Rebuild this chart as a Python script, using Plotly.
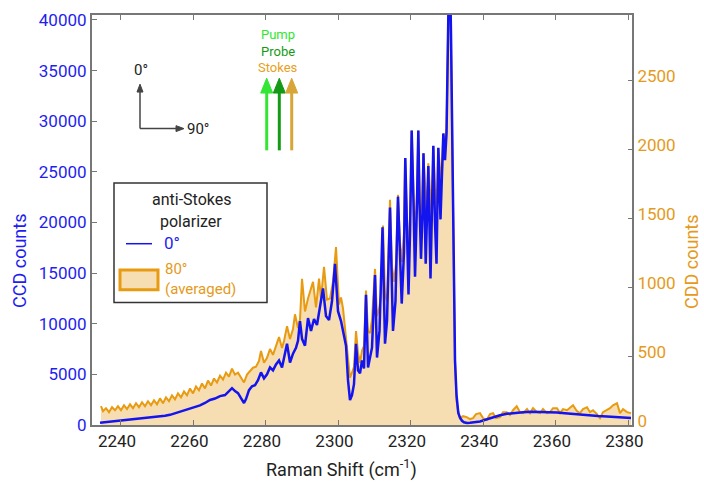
import plotly.graph_objects as go

# ---------------- data ----------------
# anti-Stokes polarizer 0 deg (left axis, CCD counts)
x_blue = [2234.21, 2235.59, 2236.97, 2238.35, 2239.73, 2241.11, 2242.49, 2243.86, 2245.24, 2246.62,
          2248.00, 2249.38, 2250.76, 2252.14, 2253.52, 2254.90, 2256.28, 2257.66, 2259.04, 2260.42,
          2261.80, 2263.18, 2264.56, 2265.94, 2267.32, 2268.70, 2269.53, 2270.63, 2271.46, 2272.29,
          2273.11, 2273.94, 2274.49, 2275.32, 2276.15, 2276.98, 2277.80, 2278.63, 2279.46, 2280.29,
          2281.12, 2281.94, 2282.77, 2283.60, 2284.43, 2284.98, 2285.81, 2286.63, 2287.46, 2288.29,
          2288.84, 2289.39, 2289.95, 2290.77, 2291.60, 2292.43, 2293.26, 2294.08, 2294.91, 2295.74,
          2296.57, 2297.40, 2298.22, 2299.05, 2299.88, 2300.71, 2301.53, 2302.09, 2302.64, 2303.19,
          2303.74, 2304.29, 2304.85, 2305.40, 2305.95, 2306.50, 2307.05, 2307.60, 2308.16, 2308.71,
          2309.26, 2310.09, 2310.64, 2311.33, 2312.16, 2312.85, 2313.40, 2314.23, 2315.05, 2315.74,
          2316.43, 2317.46, 2318.09, 2318.45, 2318.92, 2319.33, 2319.75, 2320.21, 2320.71, 2321.13,
          2321.68, 2322.04, 2322.37, 2322.78, 2323.20, 2323.47, 2324.08, 2324.80, 2325.40, 2326.18,
          2326.64, 2327.06, 2327.56, 2328.16, 2328.94, 2329.40, 2329.82, 2330.23, 2330.65, 2331.06,
          2331.47, 2331.75, 2332.16, 2332.58, 2333.07, 2333.54, 2334.09, 2334.64, 2335.47, 2336.30,
          2337.68, 2339.06, 2340.99, 2342.65, 2344.58, 2346.51, 2348.72, 2350.93, 2353.41, 2355.62,
          2357.82, 2360.31, 2362.51, 2364.72, 2366.93, 2369.41, 2371.62, 2374.10, 2376.31, 2378.52,
          2380.72]
y_blue = [224, 273, 322, 370, 419, 468, 517, 566, 614, 663,
          712, 760, 809, 907, 1004, 1150, 1297, 1443, 1589, 1784,
          1930, 2174, 2467, 2613, 2857, 2954, 3247, 3637, 3344, 3149,
          2662, 2174, 2564, 3442, 3832, 3930, 4417, 5197, 4612, 5002,
          5684, 5392, 5977, 6367, 5684, 6562, 8024, 6172, 7049, 7634,
          8317, 10267, 8512, 7829, 10560, 9292, 10462, 9877, 11729, 13484,
          10755, 10365, 12217, 15922, 11242, 10267, 8804, 7829, 4417, 2467,
          2954, 4027, 8024, 5392, 5099, 6367, 5587, 12870, 5684, 6854,
          7634, 14820, 6659, 9292, 19530, 8024, 10267, 21478, 9292, 12217,
          22550, 11992, 17092, 26354, 18067, 12899, 19012, 29084, 21965, 14655,
          21965, 29084, 21965, 16409, 20987, 26842, 15922, 25574, 14460, 27574,
          20017, 15922, 27379, 20305, 28792, 26159, 28792, 35620, 48000, 38542,
          26842, 15142, 6367, 2954, 1199, 712, 419, 273, 195, 224,
          273, 351, 566, 780, 955, 1102, 1199, 1268, 1297, 1297,
          1268, 1229, 1150, 1073, 1004, 936, 878, 839, 790, 741,
          683]

# anti-Stokes polarizer 80 deg, averaged (right axis, CDD counts)
x_orange = [2234.48, 2235.04, 2235.86, 2236.69, 2237.52, 2238.35, 2239.17, 2240.00, 2240.83, 2241.66,
            2242.49, 2243.31, 2244.14, 2244.97, 2245.80, 2246.62, 2247.45, 2248.28, 2249.11, 2249.94,
            2250.76, 2251.59, 2252.42, 2253.25, 2254.07, 2254.90, 2255.73, 2256.56, 2257.39, 2258.21,
            2259.04, 2259.87, 2260.70, 2261.52, 2262.35, 2263.18, 2264.01, 2264.84, 2265.66, 2266.49,
            2267.32, 2268.15, 2268.97, 2269.80, 2270.63, 2271.46, 2272.29, 2273.11, 2273.94, 2274.77,
            2275.60, 2276.42, 2277.25, 2278.08, 2278.63, 2279.46, 2280.29, 2281.12, 2281.94, 2282.77,
            2283.60, 2284.43, 2284.98, 2285.81, 2286.63, 2287.46, 2288.01, 2288.84, 2289.39, 2289.95,
            2290.77, 2291.60, 2292.43, 2292.98, 2293.81, 2294.64, 2295.19, 2296.02, 2296.84, 2297.67,
            2298.50, 2299.33, 2300.15, 2300.71, 2301.26, 2302.09, 2302.64, 2303.19, 2303.74, 2304.29,
            2304.85, 2305.40, 2305.95, 2306.50, 2307.05, 2307.60, 2308.16, 2308.71, 2309.26, 2310.09,
            2310.64, 2311.19, 2311.74, 2312.30, 2312.85, 2313.40, 2314.23, 2314.78, 2315.33, 2315.88,
            2316.43, 2316.99, 2317.54, 2318.09, 2318.37, 2318.92, 2319.33, 2319.75, 2320.21, 2320.71,
            2321.13, 2321.68, 2322.04, 2322.37, 2322.64, 2323.06, 2323.42, 2323.89, 2324.36, 2324.80,
            2325.26, 2325.73, 2326.18, 2326.64, 2327.11, 2327.56, 2328.02, 2328.49, 2328.94, 2329.40,
            2329.82, 2330.23, 2330.65, 2331.06, 2331.47, 2331.75, 2332.16, 2332.58, 2332.99, 2333.54,
            2334.37, 2335.39, 2336.30, 2337.13, 2337.96, 2339.06, 2339.89, 2340.91, 2341.82, 2342.65,
            2343.48, 2344.58, 2345.41, 2346.43, 2347.34, 2348.17, 2349.19, 2350.10, 2350.93, 2352.03,
            2352.86, 2353.69, 2354.79, 2355.62, 2356.44, 2357.55, 2358.38, 2359.20, 2360.31, 2361.13,
            2361.96, 2363.07, 2363.89, 2364.72, 2365.83, 2366.65, 2367.48, 2368.59, 2369.41, 2370.24,
            2371.34, 2372.17, 2373.00, 2374.10, 2374.93, 2375.76, 2376.86, 2377.69, 2378.52, 2379.62,
            2380.72]
y_orange = [136, 100, 122, 93, 129, 107, 136, 107, 143, 115,
            150, 122, 158, 129, 165, 136, 172, 143, 179, 150,
            193, 158, 200, 172, 215, 186, 229, 200, 243, 215,
            265, 229, 279, 251, 301, 265, 322, 286, 337, 308,
            358, 329, 379, 351, 408, 365, 379, 344, 308, 365,
            394, 415, 422, 465, 537, 451, 487, 551, 508, 573,
            637, 558, 609, 716, 623, 695, 802, 702, 766, 1060,
            823, 917, 981, 1038, 852, 1060, 917, 1146, 909, 917,
            1038, 1289, 874, 924, 845, 623, 465, 344, 379, 422,
            680, 523, 451, 537, 573, 974, 680, 666, 766, 1131,
            788, 838, 931, 1446, 952, 895, 1632, 1146, 1038, 1167,
            1668, 1325, 1181, 1396, 1933, 1432, 1203, 1504, 2134, 1683,
            1346, 1683, 2134, 1683, 1375, 1611, 1969, 1754, 1504, 1897,
            1683, 1504, 2019, 1718, 1561, 2005, 1862, 1790, 2112, 2041,
            2148, 2613, 3500, 2757, 1969, 1110, 465, 179, 107, 50,
            64, 57, 43, 50, 79, 86, 50, 36, 79, 86,
            50, 57, 93, 93, 72, 107, 136, 93, 86, 115,
            86, 122, 93, 86, 115, 86, 93, 122, 122, 86,
            115, 107, 122, 143, 100, 86, 115, 129, 93, 107,
            79, 50, 93, 107, 122, 143, 158, 86, 115, 93,
            86]

x_ticks = [2240, 2260, 2280, 2300, 2320, 2340, 2360, 2380]
left_ticks = [0, 5000, 10000, 15000, 20000, 25000, 30000, 35000, 40000]
right_ticks = [0, 500, 1000, 1500, 2000, 2500]

# ---------------- style ----------------
FONT = "Roboto, Liberation Sans, sans-serif"
BLUE = "#1414EE"
BLUE_TXT = "#1E1EF0"
ORANGE = "#E89B10"
ORANGE_TXT = "#E59A1A"
FILL = "#F6DDB2"
AXC = "#777777"
TICK_SIZE = 17

L, R, T, B = 92, 632, 10, 425
W, H = R - L, B - T


def px(xp):
    return (xp - L) / W


def py(yp):
    return (B - yp) / H


fig = go.Figure()
fig.add_trace(go.Scatter(x=x_orange, y=y_orange, yaxis="y", mode="lines",
                         line=dict(color=ORANGE, width=2), fill="tozeroy",
                         fillcolor=FILL, hoverinfo="skip"))
fig.add_trace(go.Scatter(x=x_blue, y=y_blue, yaxis="y2", mode="lines",
                         line=dict(color=BLUE, width=2.5), hoverinfo="skip"))

fig.update_layout(
    width=704, height=492,
    margin=dict(l=L, r=704 - R, t=T, b=492 - B),
    paper_bgcolor="white", plot_bgcolor="white",
    showlegend=False,
    font=dict(family=FONT, size=TICK_SIZE, color="#222222"),
    xaxis=dict(range=[2232, 2381], tickvals=x_ticks, ticktext=[str(v) for v in x_ticks],
               ticks="inside", ticklen=5, ticklabelshift=-4,
               tickcolor=AXC, showline=True, linecolor=AXC, linewidth=2,
               mirror="ticks", showgrid=False, zeroline=False,
               tickfont=dict(family=FONT, size=TICK_SIZE, color="#222222")),
    yaxis=dict(range=[0, 2971], tickvals=right_ticks, ticktext=[str(v) for v in right_ticks],
               side="right", ticks="inside", ticklabelshift=-4,
               ticklen=4, tickcolor=AXC, showline=True, linecolor=AXC, linewidth=2,
               showgrid=False, zeroline=False, ticklabelstandoff=0,
               tickfont=dict(family=FONT, size=TICK_SIZE, color=ORANGE_TXT)),
    yaxis2=dict(range=[0, 40490], tickvals=left_ticks, ticktext=[str(v) for v in left_ticks],
                side="left", overlaying="y",
                ticks="inside", ticklen=5, tickcolor=AXC, showline=True, linecolor=AXC,
                linewidth=2, showgrid=False, zeroline=False,
                tickfont=dict(family=FONT, size=TICK_SIZE, color=BLUE_TXT)),
)

ann = []
shapes = []


def text(t, x, y, color, size=17, xanchor="center", yanchor="middle", angle=0, align="center"):
    ann.append(dict(text=t, x=px(x), y=py(y), xref="paper", yref="paper",
                    showarrow=False, xanchor=xanchor, yanchor=yanchor, borderpad=0,
                    align=align, textangle=angle,
                    font=dict(family=FONT, size=size, color=color)))


def line(x0, y0, x1, y1, color, width):
    shapes.append(dict(type="line", xref="paper", yref="paper", x0=px(x0), y0=py(y0),
                       x1=px(x1), y1=py(y1), line=dict(color=color, width=width)))


def tri(pts, color):
    p = "M " + " L ".join(f"{px(a):.5f},{py(b):.5f}" for a, b in pts) + " Z"
    shapes.append(dict(type="path", xref="paper", yref="paper", path=p,
                       fillcolor=color, line=dict(color=color, width=1)))


# axis titles
text("CCD counts", 19, 259, BLUE_TXT, size=18, angle=-90)
text("CDD counts", 692, 260, ORANGE_TXT, size=18, angle=-90)
text("Raman Shift (cm<sup>-1</sup>)", 341, 469, "#222222", size=18)

# legend box
shapes.append(dict(type="rect", xref="paper", yref="paper", x0=px(114), y0=py(301),
                   x1=px(267), y1=py(180), fillcolor="white",
                   line=dict(color="#333333", width=1.5)))
text("anti-Stokes", 191, 197, "#222222", size=16)
text("polarizer", 191, 219, "#222222", size=16)
line(126, 241.5, 152, 241.5, BLUE, 1.5)
text("0°", 163, 241, BLUE_TXT, size=17, xanchor="left")
shapes.append(dict(type="rect", xref="paper", yref="paper", x0=px(120), y0=py(288),
                   x1=px(158), y1=py(268), fillcolor=FILL,
                   line=dict(color=ORANGE, width=3)))
text("80°<br>(averaged)", 164, 277, ORANGE_TXT, size=15, xanchor="left", align="left")

# polarization direction arrows
line(140, 125, 140, 86, "#444444", 1.5)
tri([(140, 80), (137, 88), (143, 88)], "#444444")
line(140, 125, 177, 125, "#444444", 1.5)
tri([(184, 125), (176, 122), (176, 128)], "#444444")
text("0°", 141, 66, "#222222", size=15)
text("90°", 186, 125, "#222222", size=15, xanchor="left")

# beam arrows
beams = [(266.7, "#33E633"), (279.3, "#149A14"), (291.7, "#D8A638")]
for bx, col in beams:
    line(bx, 147, bx, 86, col, 3)
    tri([(bx, 74), (bx - 6, 89), (bx + 6, 89)], col)
text("Pump", 278, 30, "#2EE82E", size=13)
text("Probe", 278, 47, "#169A16", size=13)
text("Stokes", 278, 63.5, "#E8A020", size=13)

fig.update_layout(annotations=ann, shapes=shapes)
fig.write_html("out.html")
